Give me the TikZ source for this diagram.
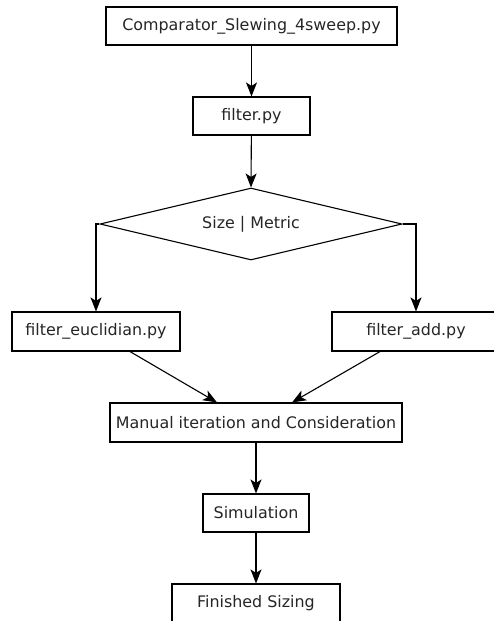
\documentclass[tikz,border=0pt]{standalone}
\usepackage{fontspec}
\setmainfont{DejaVu Sans}
\usetikzlibrary{shapes.geometric,arrows.meta}
\definecolor{txt}{HTML}{262626}
\begin{document}
\begin{tikzpicture}[x=1pt,y=-1pt,
  box/.style={draw,line width=1.1pt,rectangle,inner sep=0pt,text=txt,font=\fontsize{15.9}{18}\selectfont},
  conn/.style={line width=1.1pt,-{Stealth[length=14pt,width=11pt,inset=3.5pt]}}]
\useasboundingbox (0,0) rectangle (494,621);
\clip (0,0) rectangle (494,621);
\fill[white] (0,0) rectangle (494,621);
\node[box,minimum width=291pt,minimum height=38pt] (top) at (251.5,26) {Comparator\_Slewing\_4sweep.py};
\node[box,minimum width=117pt,minimum height=38pt] (filt) at (251.5,116) {filter.py};
\node[box,shape=diamond,aspect=4.2,minimum width=302pt,minimum height=72pt] (dia) at (251,224) {Size | Metric};
\node[box,minimum width=168pt,minimum height=39pt] (eu) at (96,331.5) {filter\_euclidian.py};
\node[box,minimum width=168pt,minimum height=39pt] (add) at (416,331.5) {filter\_add.py};
\node[box,minimum width=292pt,minimum height=39pt] (man) at (256,422.5) {Manual iteration and Consideration};
\node[box,minimum width=106pt,minimum height=38pt] (sim) at (256,513) {Simulation};
\node[box,minimum width=168pt,minimum height=38pt] (fin) at (256,603) {Finished Sizing};
\draw[conn] (top) -- (filt);
\draw[conn] (filt) -- (dia.north);
\draw[conn] (dia.west) -| (eu.north);
\draw[conn] (dia.east) -| (add.north);
\draw[conn] ([xshift=34pt]eu.south) -- ([xshift=-39pt]man.north);
\draw[conn] ([xshift=-36pt]add.south) -- ([xshift=36pt]man.north);
\draw[conn] (man) -- (sim);
\draw[conn] (sim) -- (fin);
\end{tikzpicture}
\end{document}
